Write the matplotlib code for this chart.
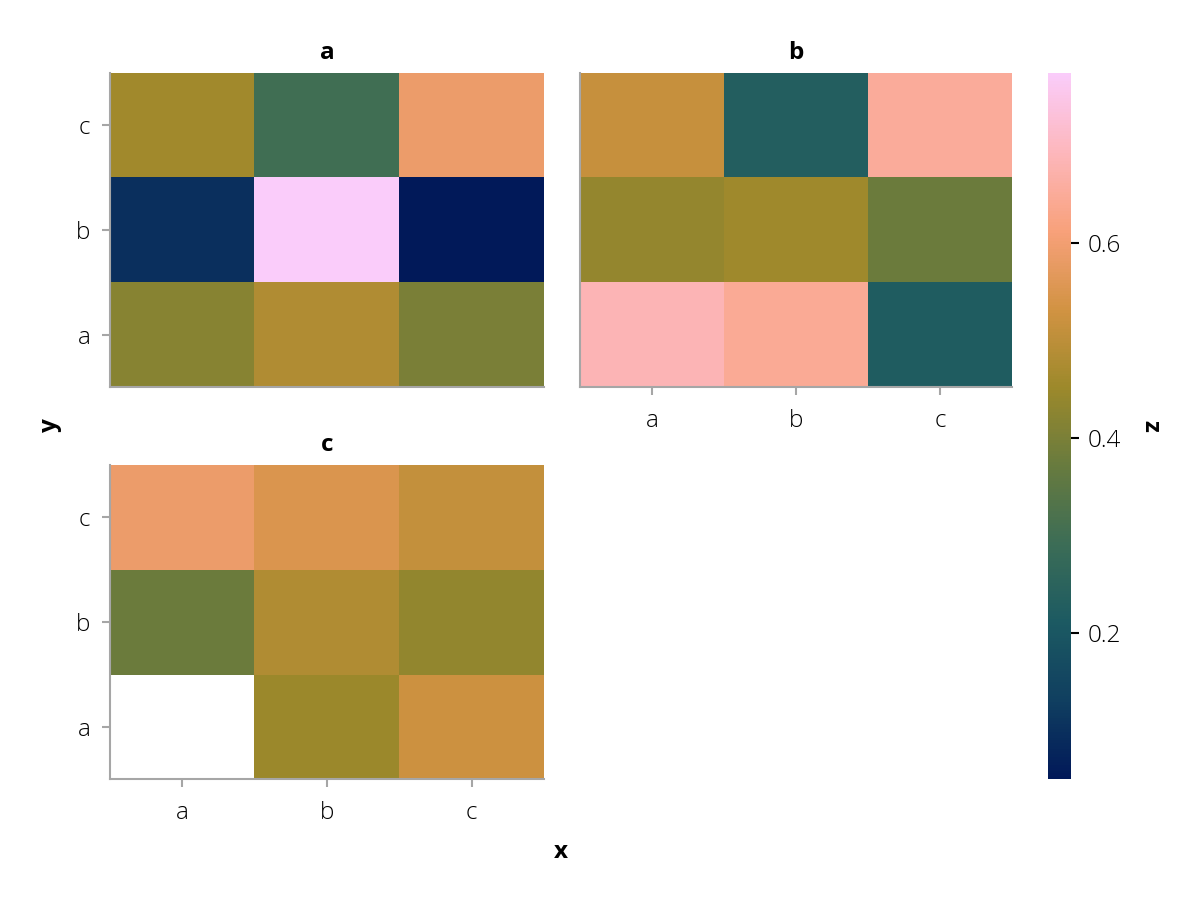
import numpy as np
import matplotlib
matplotlib.use("Agg")
import matplotlib.pyplot as plt
from matplotlib.colors import LinearSegmentedColormap

# ---- data ----
categories = ["a", "b", "c"]
panel_titles = ["a", "b", "c"]
# rows = y (a, b, c), cols = x (a, b, c)
z_a = [[0.42, 0.48, 0.40],
       [0.10, 0.774, 0.05],
       [0.46, 0.30, 0.59]]
z_b = [[0.686, 0.645, 0.22],
       [0.44, 0.455, 0.376],
       [0.515, 0.23, 0.65]]
z_c = [[np.nan, 0.45, 0.525],
       [0.376, 0.48, 0.436],
       [0.59, 0.55, 0.51]]
cbar_ticks = [0.2, 0.4, 0.6]
zmin, zmax = 0.05, 0.774

batlow_colors = ["#011959", "#103F60", "#1C5A62", "#3C6D56", "#687B3E",
                 "#9D892B", "#D29343", "#F8A17B", "#FDB7BC", "#FACCFA"]
cmap = LinearSegmentedColormap.from_list("batlow", batlow_colors, N=256)
cmap.set_bad("white")

plt.rcParams['font.family'] = ['Open Sans', 'DejaVu Sans']
plt.rcParams['font.weight'] = 'light'

fig = plt.figure(figsize=(12, 9), dpi=100)
W, H = 1200, 900

def ax_at(x0, y0, x1, y1):
    return fig.add_axes([x0 / W, 1 - y1 / H, (x1 - x0) / W, (y1 - y0) / H])

ax_a = ax_at(110, 73, 544, 387)
ax_b = ax_at(580, 73, 1012, 387)
ax_c = ax_at(110, 465, 544, 779)
cax = ax_at(1048, 73, 1071, 779)

spine_col = "#a6a6a6"
fs = 17.5

for ax, z, title, showx, showy in [(ax_a, z_a, "a", False, True),
                                    (ax_b, z_b, "b", True, False),
                                    (ax_c, z_c, "c", True, True)]:
    arr = np.ma.masked_invalid(np.array(z, dtype=float))
    ax.imshow(arr, cmap=cmap, vmin=zmin, vmax=zmax, origin="lower",
              aspect="auto", extent=(-0.5, 2.5, -0.5, 2.5),
              interpolation="nearest")
    ax.set_xlim(-0.5, 2.5)
    ax.set_ylim(-0.5, 2.5)
    for s in ["top", "right"]:
        ax.spines[s].set_visible(False)
    for s in ["left", "bottom"]:
        ax.spines[s].set_color(spine_col)
        ax.spines[s].set_linewidth(1.5)
    ax.set_title(title, fontsize=fs, fontweight="bold", pad=10)
    ax.tick_params(color=spine_col, width=1.5, length=6, labelsize=fs,
                   labelcolor="black")
    ax.tick_params(axis="x", pad=10)
    ax.tick_params(axis="y", pad=8)
    if showx:
        ax.set_xticks(range(3))
        ax.set_xticklabels(categories)
    else:
        ax.set_xticks([])
    if showy:
        ax.set_yticks(range(3))
        ax.set_yticklabels(categories)
    else:
        ax.set_yticks([])

# colorbar
sm = plt.cm.ScalarMappable(cmap=cmap, norm=plt.Normalize(zmin, zmax))
cb = fig.colorbar(sm, cax=cax)
cb.outline.set_visible(False)
cb.set_ticks(cbar_ticks)
cb.set_ticklabels([f"{t:.1f}" for t in cbar_ticks])
cax.tick_params(labelsize=fs, length=6, width=1.5, color="black", pad=6)
cb.set_label("z", fontsize=fs, fontweight="bold", rotation=270, labelpad=30)

fig.text(50 / W, 1 - 425 / H, "y", fontsize=fs, fontweight="bold",
         rotation=90, ha="center", va="center")
fig.text(561 / W, 1 - 852 / H, "x", fontsize=fs, fontweight="bold",
         ha="center", va="center")

fig.savefig("out.png", dpi=100)
